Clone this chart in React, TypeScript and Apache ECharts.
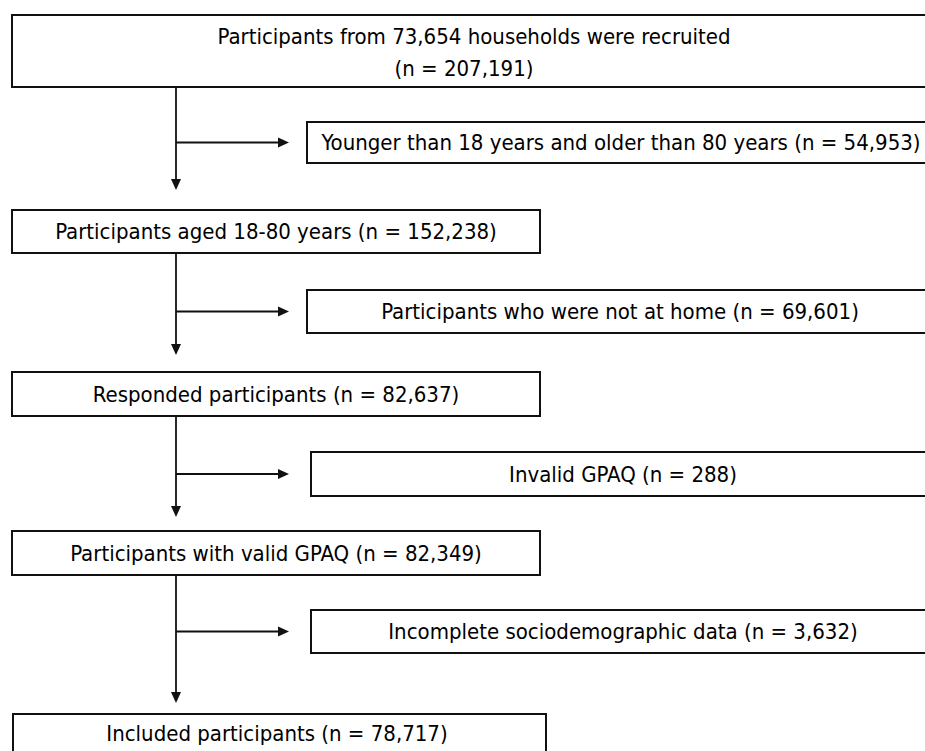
import React, { useEffect, useRef } from "react";
import * as echarts from "echarts";

// ---- data ----
const mainLabels = [
  "Participants from 73,654 households were recruited",
  "Participants aged 18-80 years",
  "Responded participants",
  "Participants with valid GPAQ",
  "Included participants",
];
const mainCounts = ["207,191", "152,238", "82,637", "82,349", "78,717"];
const excludedLabels = [
  "Younger than 18 years and older than 80 years",
  "Participants who were not at home",
  "Invalid GPAQ",
  "Incomplete sociodemographic data",
];
const excludedCounts = ["54,953", "69,601", "288", "3,632"];

// ---- layout ----
const mainBoxes = [
  { x: 12, y: 15, w: 925, h: 72 },
  { x: 12, y: 210, w: 528, h: 43 },
  { x: 12, y: 372, w: 528, h: 44 },
  { x: 12, y: 531, w: 528, h: 44 },
  { x: 13, y: 714, w: 533, h: 50 },
];
const exBoxes = [
  { x: 307, y: 122, w: 640, h: 41 },
  { x: 307, y: 290, w: 640, h: 43 },
  { x: 311, y: 452, w: 640, h: 44 },
  { x: 311, y: 610, w: 640, h: 43 },
];
const arrowTips = [190, 355, 517, 703];
const trunkX = 176;
const FONT = '"DejaVu Sans Condensed", "Liberation Sans Narrow", sans-serif';
const FS = 22;
const STROKE = "#111";

function buildGraphic() {
  const els: any[] = [];
  [...mainBoxes, ...exBoxes].forEach((b) => {
    els.push({
      type: "rect",
      shape: { x: b.x, y: b.y, width: b.w, height: b.h },
      style: { fill: "#fff", stroke: STROKE, lineWidth: 2 },
    });
  });
  const t = (x: number, y: number, s: string) => ({
    type: "text",
    x,
    y,
    style: {
      text: s,
      fill: "#000",
      font: `${FS}px ${FONT}`,
      align: "center",
      verticalAlign: "middle",
    },
  });
  els.push(t(474, 36, mainLabels[0]));
  els.push(t(464, 68, `(n = ${mainCounts[0]})`));
  [1, 2, 3, 4].forEach((i) => {
    const b = mainBoxes[i];
    const cy = i === 4 ? 733 : b.y + b.h / 2;
    els.push(t(b.x + 264, cy, `${mainLabels[i]} (n = ${mainCounts[i]})`));
  });
  const exCx = [621, 620, 623, 623];
  exBoxes.forEach((b, i) => {
    els.push(t(exCx[i], b.y + b.h / 2, `${excludedLabels[i]} (n = ${excludedCounts[i]})`));
  });
  // connectors
  for (let i = 0; i < 4; i++) {
    const top = mainBoxes[i].y + mainBoxes[i].h;
    const tip = arrowTips[i];
    els.push({
      type: "line",
      shape: { x1: trunkX, y1: top, x2: trunkX, y2: tip - 10 },
      style: { stroke: STROKE, lineWidth: 1.8 },
    });
    els.push({
      type: "polygon",
      shape: { points: [[trunkX - 5, tip - 11], [trunkX + 5, tip - 11], [trunkX, tip]] },
      style: { fill: STROKE },
    });
    const by = exBoxes[i].y + exBoxes[i].h / 2;
    const ax = 289;
    els.push({
      type: "line",
      shape: { x1: trunkX, y1: by, x2: ax - 10, y2: by },
      style: { stroke: STROKE, lineWidth: 1.8 },
    });
    els.push({
      type: "polygon",
      shape: { points: [[ax - 11, by - 5], [ax - 11, by + 5], [ax, by]] },
      style: { fill: STROKE },
    });
  }
  return els;
}

export default function App() {
  const ref = useRef<HTMLDivElement>(null);
  useEffect(() => {
    if (!ref.current) return;
    const chart = echarts.init(ref.current, undefined, { renderer: "svg" });
    chart.setOption({
      animation: false,
      backgroundColor: "#fff",
      graphic: { elements: buildGraphic() },
    });
    return () => chart.dispose();
  }, []);
  return (
    <div
      ref={ref}
      style={{ position: "absolute", left: 0, top: 0, width: 925, height: 751 }}
    />
  );
}
